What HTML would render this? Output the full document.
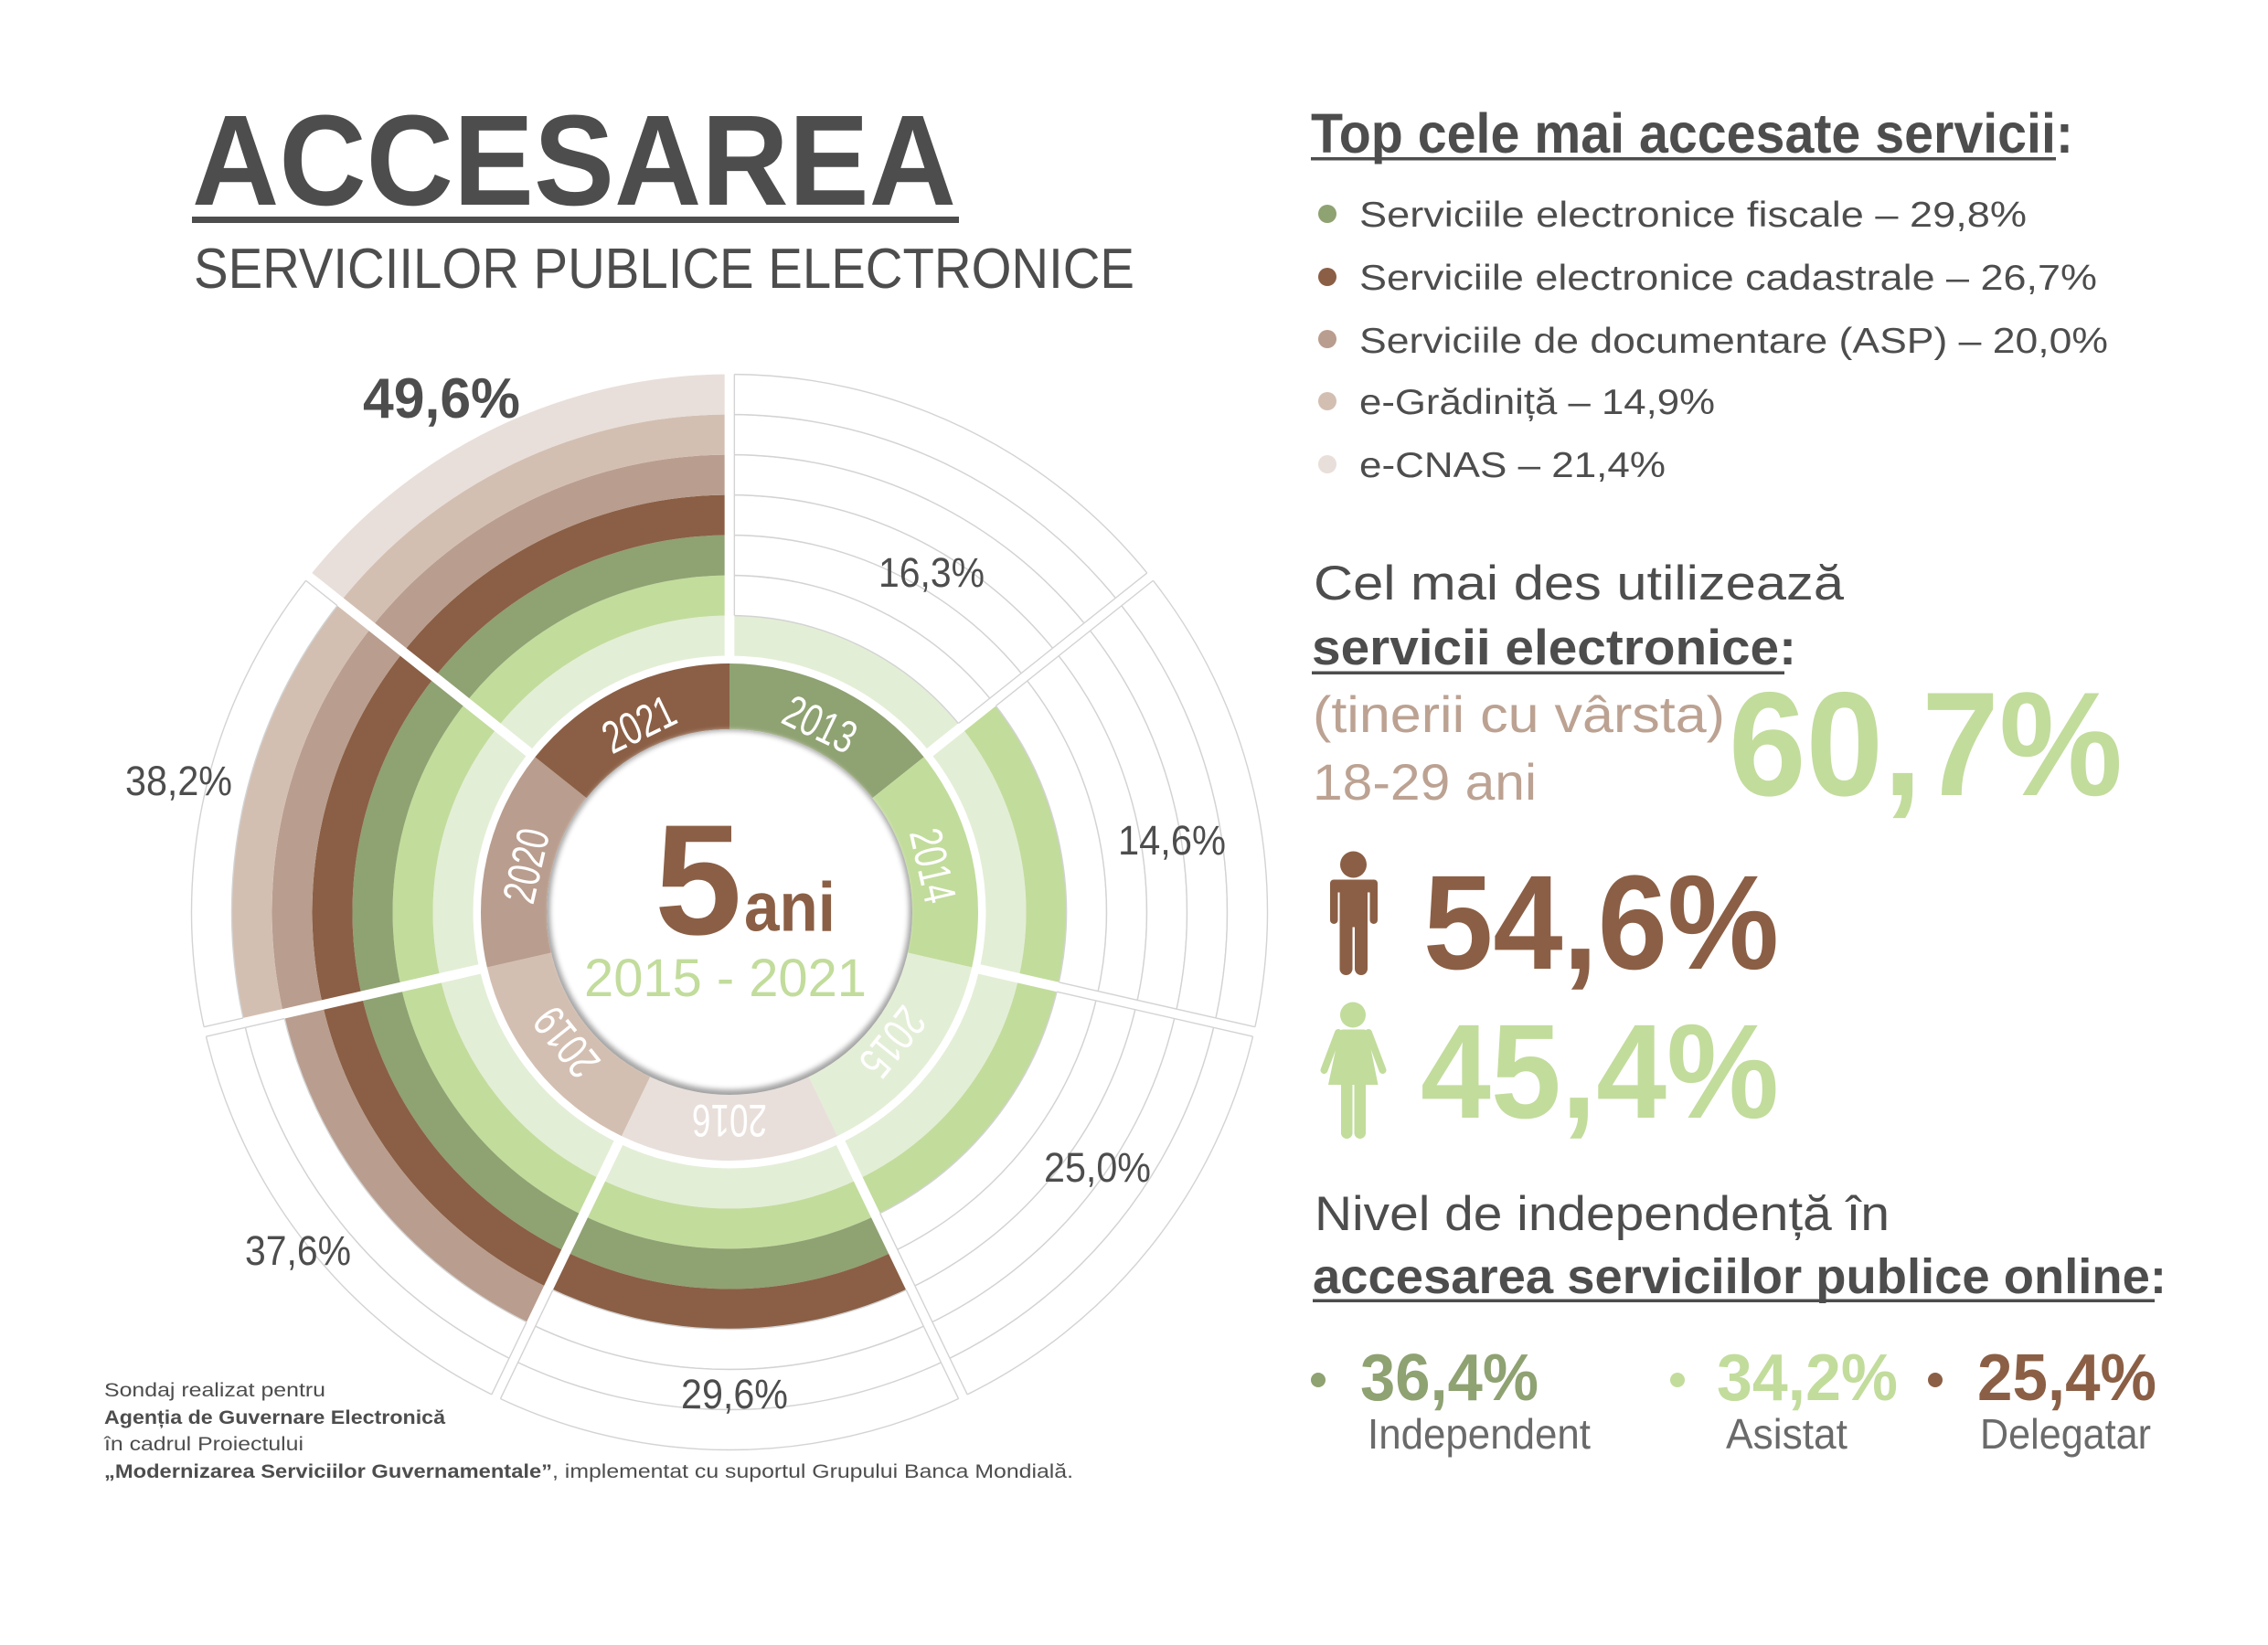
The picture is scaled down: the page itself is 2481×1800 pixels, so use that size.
<!DOCTYPE html>
<html>
<head>
<meta charset="utf-8">
<style>
html,body{margin:0;padding:0;background:#fff;}
svg{display:block;}
</style>
</head>
<body>
<svg xmlns="http://www.w3.org/2000/svg" width="2481" height="1800" viewBox="0 0 2481 1800" font-family="'Liberation Sans', Arial, sans-serif">
<defs>
  <path id="c0" d="M0,-324.5A324.5,324.5 0 0 1 253.704,-202.322L219.304,-174.889A280.5,280.5 0 0 0 0,-280.5Z"/>
  <path id="c1" d="M0,-368.5A368.5,368.5 0 0 1 288.105,-229.756L253.704,-202.322A324.5,324.5 0 0 0 0,-324.5Z"/>
  <path id="c2" d="M0,-412.5A412.5,412.5 0 0 1 322.506,-257.190L288.105,-229.756A368.5,368.5 0 0 0 0,-368.5Z"/>
  <path id="c3" d="M0,-456.5A456.5,456.5 0 0 1 356.906,-284.623L322.506,-257.190A412.5,412.5 0 0 0 0,-412.5Z"/>
  <path id="c4" d="M0,-500.5A500.5,500.5 0 0 1 391.307,-312.057L356.906,-284.623A456.5,456.5 0 0 0 0,-456.5Z"/>
  <path id="c5" d="M0,-544.5A544.5,544.5 0 0 1 425.707,-339.490L391.307,-312.057A500.5,500.5 0 0 0 0,-500.5Z"/>
  <path id="c6" d="M0,-588.5A588.5,588.5 0 0 1 460.108,-366.924L425.707,-339.490A544.5,544.5 0 0 0 0,-544.5Z"/>
  <path id="yr" d="M0,-272A272,272 0 0 1 212.658,-169.589L156.366,-124.698A200,200 0 0 0 0,-200Z"/>
  <filter id="blur" x="-10%" y="-10%" width="120%" height="120%"><feGaussianBlur stdDeviation="3"/></filter>
</defs>

<rect x="0" y="0" width="2481" height="1800" fill="#fff"/>

<!-- Title -->
<text x="210" y="224" font-size="141" font-weight="bold" fill="#4d4d4d" textLength="836" lengthAdjust="spacingAndGlyphs">ACCESAREA</text>
<rect x="210" y="237" width="839" height="7" fill="#4d4d4d"/>
<text x="212" y="315" font-size="62" fill="#4d4d4d" textLength="1029" lengthAdjust="spacingAndGlyphs">SERVICIILOR PUBLICE ELECTRONICE</text>

<!-- Chart -->
<g transform="translate(798,998)">
  <!-- year ring -->
  <use href="#yr" fill="#8fa272" transform="rotate(0)"/>
  <use href="#yr" fill="#c2dc9c" transform="rotate(51.428571)"/>
  <use href="#yr" fill="#e3eed6" transform="rotate(102.857143)"/>
  <use href="#yr" fill="#e8dfda" transform="rotate(154.285714)"/>
  <use href="#yr" fill="#d3bfb2" transform="rotate(205.714286)"/>
  <use href="#yr" fill="#b99d8e" transform="rotate(257.142857)"/>
  <use href="#yr" fill="#8b5f45" transform="rotate(308.571429)"/>

  <!-- sector 0: 2013 (1 filled) -->
  <g transform="rotate(0)">
    <use href="#c0" fill="#e3eed6"/>
    <g fill="#fff" stroke="#d3d3d3" stroke-width="1.4">
      <use href="#c1"/><use href="#c2"/><use href="#c3"/><use href="#c4"/><use href="#c5"/><use href="#c6"/>
    </g>
  </g>
  <!-- sector 1: 2014 (2 filled) -->
  <g transform="rotate(51.428571)">
    <use href="#c0" fill="#e3eed6"/>
    <use href="#c1" fill="#c2dc9c"/>
    <g fill="#fff" stroke="#d3d3d3" stroke-width="1.4">
      <use href="#c2"/><use href="#c3"/><use href="#c4"/><use href="#c5"/><use href="#c6"/>
    </g>
  </g>
  <!-- sector 2: 2015 (2 filled) -->
  <g transform="rotate(102.857143)">
    <use href="#c0" fill="#e3eed6"/>
    <use href="#c1" fill="#c2dc9c"/>
    <g fill="#fff" stroke="#d3d3d3" stroke-width="1.4">
      <use href="#c2"/><use href="#c3"/><use href="#c4"/><use href="#c5"/><use href="#c6"/>
    </g>
  </g>
  <!-- sector 3: 2016 (4 filled) -->
  <g transform="rotate(154.285714)">
    <use href="#c0" fill="#e3eed6"/>
    <use href="#c1" fill="#c2dc9c"/>
    <use href="#c2" fill="#8fa272"/>
    <use href="#c3" fill="#8b5f45"/>
    <g fill="#fff" stroke="#d3d3d3" stroke-width="1.4">
      <use href="#c4"/><use href="#c5"/><use href="#c6"/>
    </g>
  </g>
  <!-- sector 4: 2019 (5 filled) -->
  <g transform="rotate(205.714286)">
    <use href="#c0" fill="#e3eed6"/>
    <use href="#c1" fill="#c2dc9c"/>
    <use href="#c2" fill="#8fa272"/>
    <use href="#c3" fill="#8b5f45"/>
    <use href="#c4" fill="#b99d8e"/>
    <g fill="#fff" stroke="#d3d3d3" stroke-width="1.4">
      <use href="#c5"/><use href="#c6"/>
    </g>
  </g>
  <!-- sector 5: 2020 (6 filled) -->
  <g transform="rotate(257.142857)">
    <use href="#c0" fill="#e3eed6"/>
    <use href="#c1" fill="#c2dc9c"/>
    <use href="#c2" fill="#8fa272"/>
    <use href="#c3" fill="#8b5f45"/>
    <use href="#c4" fill="#b99d8e"/>
    <use href="#c5" fill="#d3bfb2"/>
    <g fill="#fff" stroke="#d3d3d3" stroke-width="1.4">
      <use href="#c6"/>
    </g>
  </g>
  <!-- sector 6: 2021 (7 filled) -->
  <g transform="rotate(308.571429)">
    <use href="#c0" fill="#e3eed6"/>
    <use href="#c1" fill="#c2dc9c"/>
    <use href="#c2" fill="#8fa272"/>
    <use href="#c3" fill="#8b5f45"/>
    <use href="#c4" fill="#b99d8e"/>
    <use href="#c5" fill="#d3bfb2"/>
    <use href="#c6" fill="#e8dfda"/>
  </g>

  <!-- white gaps -->
  <g stroke="#fff" stroke-width="10.7">
    <line x1="0" y1="-276" x2="0" y2="-600" transform="rotate(0)"/>
    <line x1="0" y1="-276" x2="0" y2="-600" transform="rotate(51.428571)"/>
    <line x1="0" y1="-276" x2="0" y2="-600" transform="rotate(102.857143)"/>
    <line x1="0" y1="-276" x2="0" y2="-600" transform="rotate(154.285714)"/>
    <line x1="0" y1="-276" x2="0" y2="-600" transform="rotate(205.714286)"/>
    <line x1="0" y1="-276" x2="0" y2="-600" transform="rotate(257.142857)"/>
    <line x1="0" y1="-276" x2="0" y2="-600" transform="rotate(308.571429)"/>
  </g>
  <!-- gray radial edges of empty cells -->
  <g stroke="#d3d3d3" stroke-width="1.4">
    <line x1="5.35" y1="-324.5" x2="5.35" y2="-588.5" transform="rotate(0)"/>
    <line x1="5.35" y1="-368.5" x2="5.35" y2="-588.5" transform="rotate(51.428571)"/>
    <line x1="-5.35" y1="-324.5" x2="-5.35" y2="-588.5" transform="rotate(51.428571)"/>
    <line x1="5.35" y1="-368.5" x2="5.35" y2="-588.5" transform="rotate(102.857143)"/>
    <line x1="-5.35" y1="-368.5" x2="-5.35" y2="-588.5" transform="rotate(102.857143)"/>
    <line x1="5.35" y1="-456.5" x2="5.35" y2="-588.5" transform="rotate(154.285714)"/>
    <line x1="-5.35" y1="-368.5" x2="-5.35" y2="-588.5" transform="rotate(154.285714)"/>
    <line x1="5.35" y1="-500.5" x2="5.35" y2="-588.5" transform="rotate(205.714286)"/>
    <line x1="-5.35" y1="-456.5" x2="-5.35" y2="-588.5" transform="rotate(205.714286)"/>
    <line x1="5.35" y1="-544.5" x2="5.35" y2="-588.5" transform="rotate(257.142857)"/>
    <line x1="-5.35" y1="-500.5" x2="-5.35" y2="-588.5" transform="rotate(257.142857)"/>
    <line x1="-5.35" y1="-544.5" x2="-5.35" y2="-588.5" transform="rotate(308.571429)"/>
  </g>

  <!-- inner disk -->
  <circle cx="0" cy="0" r="200" fill="#a3a3a3"/>
  <circle cx="0" cy="-2" r="196.5" fill="#fff" filter="url(#blur)"/>
  <circle cx="0" cy="-2" r="190" fill="#fff"/>

  <!-- year labels -->
  <g fill="#fff" font-size="50" text-anchor="middle">
    <text x="0" y="-211" transform="rotate(25.714286)" textLength="82" lengthAdjust="spacingAndGlyphs">2013</text>
    <text x="0" y="-211" transform="rotate(77.142857)" textLength="82" lengthAdjust="spacingAndGlyphs">2014</text>
    <text x="0" y="-211" transform="rotate(128.571429)" textLength="82" lengthAdjust="spacingAndGlyphs">2015</text>
    <text x="0" y="-211" transform="rotate(180)" textLength="82" lengthAdjust="spacingAndGlyphs">2016</text>
    <text x="0" y="-211" transform="rotate(231.428571)" textLength="82" lengthAdjust="spacingAndGlyphs">2019</text>
    <text x="0" y="-211" transform="rotate(282.857143)" textLength="82" lengthAdjust="spacingAndGlyphs">2020</text>
    <text x="0" y="-211" transform="rotate(334.285714)" textLength="82" lengthAdjust="spacingAndGlyphs">2021</text>
  </g>
</g>

<!-- center text -->
<text x="716" y="1022" font-size="172" font-weight="bold" fill="#8b5f45">5</text>
<text x="814" y="1018.5" font-size="76" font-weight="bold" fill="#8b5f45" textLength="100" lengthAdjust="spacingAndGlyphs">ani</text>
<text x="639" y="1090" font-size="58" fill="#c2dc9c" textLength="309" lengthAdjust="spacingAndGlyphs">2015 - 2021</text>

<!-- percentage labels -->
<g font-size="45" fill="#4d4d4d">
  <text x="961" y="642" textLength="116" lengthAdjust="spacingAndGlyphs">16,3%</text>
  <text x="1223" y="935" textLength="118" lengthAdjust="spacingAndGlyphs">14,6%</text>
  <text x="1142" y="1293" textLength="117" lengthAdjust="spacingAndGlyphs">25,0%</text>
  <text x="745" y="1541" textLength="117" lengthAdjust="spacingAndGlyphs">29,6%</text>
  <text x="268" y="1384" textLength="116" lengthAdjust="spacingAndGlyphs">37,6%</text>
  <text x="137" y="870" textLength="117" lengthAdjust="spacingAndGlyphs">38,2%</text>
</g>
<text x="397" y="457" font-size="62" font-weight="bold" fill="#4d4d4d" textLength="172" lengthAdjust="spacingAndGlyphs">49,6%</text>

<!-- footnote -->
<g font-size="21" fill="#4d4d4d">
  <text x="114" y="1528" textLength="242" lengthAdjust="spacingAndGlyphs">Sondaj realizat pentru</text>
  <text x="114" y="1558" font-weight="bold" textLength="373" lengthAdjust="spacingAndGlyphs">Agenția de Guvernare Electronică</text>
  <text x="114" y="1587" textLength="218" lengthAdjust="spacingAndGlyphs">în cadrul Proiectului</text>
  <text x="114" y="1617" font-weight="bold" textLength="490" lengthAdjust="spacingAndGlyphs">„Modernizarea Serviciilor Guvernamentale”</text>
  <text x="604" y="1617" textLength="570" lengthAdjust="spacingAndGlyphs">, implementat cu suportul Grupului Banca Mondială.</text>
</g>

<!-- Top services -->
<text x="1434" y="167" font-size="61" font-weight="bold" fill="#4d4d4d" textLength="834" lengthAdjust="spacingAndGlyphs">Top cele mai accesate servicii:</text>
<rect x="1434" y="172" width="815" height="3.5" fill="#4d4d4d"/>

<circle cx="1452" cy="234" r="10" fill="#8fa272"/>
<circle cx="1452" cy="303" r="10" fill="#8b5f45"/>
<circle cx="1452" cy="371" r="10" fill="#b99d8e"/>
<circle cx="1452" cy="439" r="10" fill="#d3bfb2"/>
<circle cx="1452" cy="508" r="10" fill="#e8dfda"/>
<g font-size="39" fill="#4d4d4d">
  <text x="1487" y="248" textLength="730" lengthAdjust="spacingAndGlyphs">Serviciile electronice fiscale – 29,8%</text>
  <text x="1487" y="317" textLength="807" lengthAdjust="spacingAndGlyphs">Serviciile electronice cadastrale – 26,7%</text>
  <text x="1487" y="386" textLength="819" lengthAdjust="spacingAndGlyphs">Serviciile de documentare (ASP) – 20,0%</text>
  <text x="1487" y="453" textLength="389" lengthAdjust="spacingAndGlyphs">e-Grădiniță – 14,9%</text>
  <text x="1487" y="522" textLength="335" lengthAdjust="spacingAndGlyphs">e-CNAS –  21,4%</text>
</g>

<!-- Most frequently used -->
<text x="1437" y="656" font-size="53" fill="#4d4d4d" textLength="580" lengthAdjust="spacingAndGlyphs">Cel mai des utilizează</text>
<text x="1435" y="727" font-size="55" font-weight="bold" fill="#4d4d4d" textLength="530" lengthAdjust="spacingAndGlyphs">servicii electronice:</text>
<rect x="1435" y="734.5" width="517" height="3.5" fill="#4d4d4d"/>
<text x="1436" y="801" font-size="56" fill="#bca292" textLength="451" lengthAdjust="spacingAndGlyphs">(tinerii cu vârsta)</text>
<text x="1436" y="875" font-size="56" fill="#bca292" textLength="245" lengthAdjust="spacingAndGlyphs">18-29 ani</text>
<text x="1891" y="870" font-size="162" font-weight="bold" fill="#c2dc9c" textLength="431" lengthAdjust="spacingAndGlyphs">60,7%</text>

<!-- man icon -->
<g fill="#8b5f45">
  <circle cx="1480.5" cy="946" r="14.5"/>
  <rect x="1455" y="962.5" width="52" height="14" rx="4"/>
  <rect x="1455" y="964" width="8.5" height="47" rx="4.25"/>
  <rect x="1498.5" y="964" width="8.5" height="47" rx="4.25"/>
  <rect x="1465.5" y="962.5" width="30.5" height="52"/>
  <rect x="1465.5" y="1000" width="14" height="67" rx="7"/>
  <rect x="1482" y="1000" width="14" height="67" rx="7"/>
</g>
<text x="1557" y="1060" font-size="147" font-weight="bold" fill="#8b5f45" textLength="389" lengthAdjust="spacingAndGlyphs">54,6%</text>

<!-- woman icon -->
<g fill="#c2dc9c">
  <circle cx="1480" cy="1110.5" r="14"/>
  <path d="M1469,1126.5 L1492,1126.5 Q1495,1126.5 1496,1130 L1507.5,1187 L1453,1187 L1465,1130 Q1466,1126.5 1469,1126.5Z"/>
  <line x1="1464" y1="1130" x2="1448.5" y2="1171" stroke="#c2dc9c" stroke-width="8" stroke-linecap="round"/>
  <line x1="1497" y1="1130" x2="1512.5" y2="1171" stroke="#c2dc9c" stroke-width="8" stroke-linecap="round"/>
  <rect x="1467" y="1180" width="12.5" height="66" rx="6.25"/>
  <rect x="1481.5" y="1180" width="12.5" height="66" rx="6.25"/>
</g>
<text x="1554" y="1223" font-size="147" font-weight="bold" fill="#c2dc9c" textLength="392" lengthAdjust="spacingAndGlyphs">45,4%</text>

<!-- Independence level -->
<text x="1438" y="1346" font-size="53" fill="#4d4d4d" textLength="629" lengthAdjust="spacingAndGlyphs">Nivel de independență în</text>
<text x="1436" y="1415" font-size="54" font-weight="bold" fill="#4d4d4d" textLength="934" lengthAdjust="spacingAndGlyphs">accesarea serviciilor publice online:</text>
<rect x="1436" y="1421.5" width="921" height="3.5" fill="#4d4d4d"/>

<circle cx="1442" cy="1510" r="8" fill="#8fa272"/>
<circle cx="1835" cy="1510" r="8" fill="#c2dc9c"/>
<circle cx="2117" cy="1510" r="8" fill="#8b5f45"/>
<g font-size="72" font-weight="bold">
  <text x="1488" y="1532" fill="#8fa272" textLength="195" lengthAdjust="spacingAndGlyphs">36,4%</text>
  <text x="1878" y="1532" fill="#c2dc9c" textLength="198" lengthAdjust="spacingAndGlyphs">34,2%</text>
  <text x="2163" y="1532" fill="#8b5f45" textLength="196" lengthAdjust="spacingAndGlyphs">25,4%</text>
</g>
<g font-size="46" fill="#6a6a6a">
  <text x="1496" y="1585" textLength="244" lengthAdjust="spacingAndGlyphs">Independent</text>
  <text x="1888" y="1585" textLength="133" lengthAdjust="spacingAndGlyphs">Asistat</text>
  <text x="2166" y="1585" textLength="187" lengthAdjust="spacingAndGlyphs">Delegatar</text>
</g>
</svg>
</body>
</html>
